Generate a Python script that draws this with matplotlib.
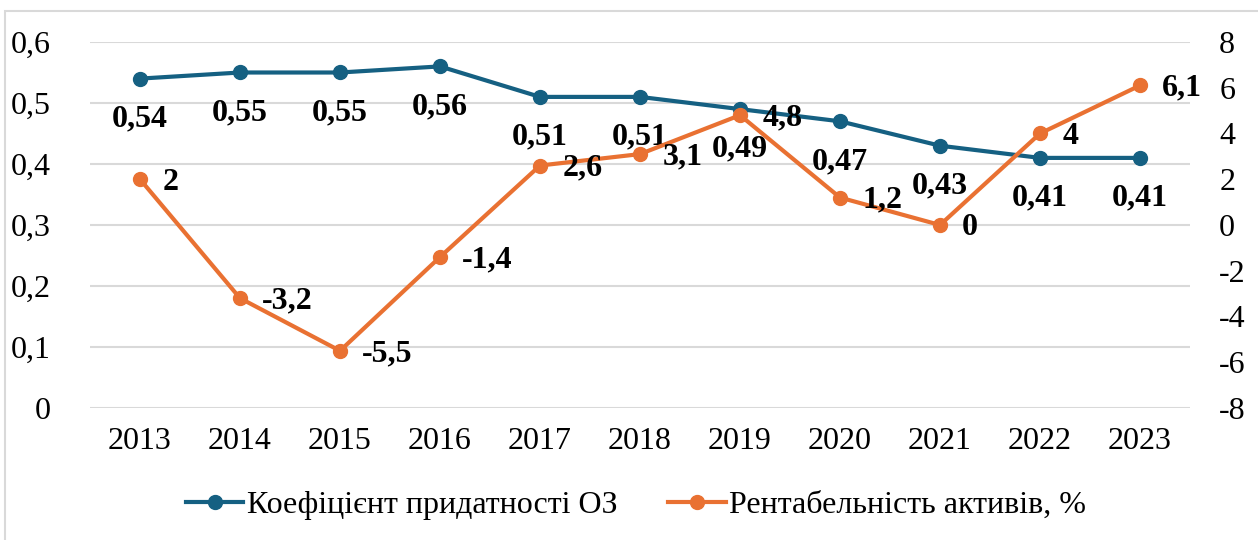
import matplotlib.pyplot as plt
from matplotlib.patches import Rectangle
from matplotlib.ticker import FuncFormatter, MultipleLocator

plt.rcParams['font.family'] = ['Liberation Serif', 'DejaVu Serif']

# Data
years = ['2013', '2014', '2015', '2016', '2017', '2018', '2019', '2020', '2021', '2022', '2023']
coef_oz = [0.54, 0.55, 0.55, 0.56, 0.51, 0.51, 0.49, 0.47, 0.43, 0.41, 0.41]
roa = [2, -3.2, -5.5, -1.4, 2.6, 3.1, 4.8, 1.2, 0, 4, 6.1]

blue = '#156082'
orange = '#E97132'
fs = 23


def comma(v, pos=None):
    s = f"{v:.2f}".rstrip('0').rstrip('.')
    if s in ('-0', ''):
        s = '0'
    return s.replace('.', ',')


fig = plt.figure(figsize=(12.58, 5.40), dpi=100)
fig.patches.append(Rectangle((5 / 1258, -0.05), 1.1, 1 - 11 / 540 + 0.05,
                             transform=fig.transFigure, fill=False,
                             edgecolor='#D9D9D9', linewidth=1.5))

ax = fig.add_axes([90 / 1258, 1 - 408 / 540, 1100 / 1258, 366 / 540])
ax2 = ax.twinx()
x = list(range(len(years)))

l1, = ax.plot(x, coef_oz, color=blue, lw=3, marker='o', ms=10, zorder=3)
l2, = ax2.plot(x, roa, color=orange, lw=3, marker='o', ms=10, zorder=3)

ax.set_ylim(0, 0.6)
ax.yaxis.set_major_locator(MultipleLocator(0.1))
ax.yaxis.set_major_formatter(FuncFormatter(comma))
ax2.set_ylim(-8, 8)
ax2.yaxis.set_major_locator(MultipleLocator(2))
ax2.yaxis.set_major_formatter(FuncFormatter(comma))
ax.set_xlim(-0.5, len(years) - 0.5)
ax.set_xticks(x)
ax.set_xticklabels(years)

ax.grid(axis='y', color='#D9D9D9', lw=1.5)
ax.set_axisbelow(True)
for a in (ax, ax2):
    for sp in a.spines.values():
        sp.set_visible(False)
    a.tick_params(length=0, labelsize=fs, colors='black')
ax.tick_params(axis='y', pad=28)
ax.tick_params(axis='x', pad=14)
ax2.tick_params(axis='y', pad=21)

# Data labels
for xi, v in zip(x, coef_oz):
    ax.annotate(comma(v), (xi, v), xytext=(0, -29), textcoords='offset points',
                ha='center', va='center', fontsize=fs, fontweight='bold', zorder=4)
for xi, v in zip(x, roa):
    ax2.annotate(comma(v), (xi, v), xytext=(16, -2), textcoords='offset points',
                 ha='left', va='center', fontsize=fs, fontweight='bold', zorder=4)

fig.legend([l1, l2], ['Коефіцієнт придатності ОЗ', 'Рентабельність активів, %'],
           loc='center', bbox_to_anchor=(636 / 1258, 1 - 505 / 540), ncol=2,
           frameon=False, fontsize=fs, handlelength=1.8, handletextpad=0.1,
           columnspacing=1.6)

fig.savefig('out.png', dpi=100)
